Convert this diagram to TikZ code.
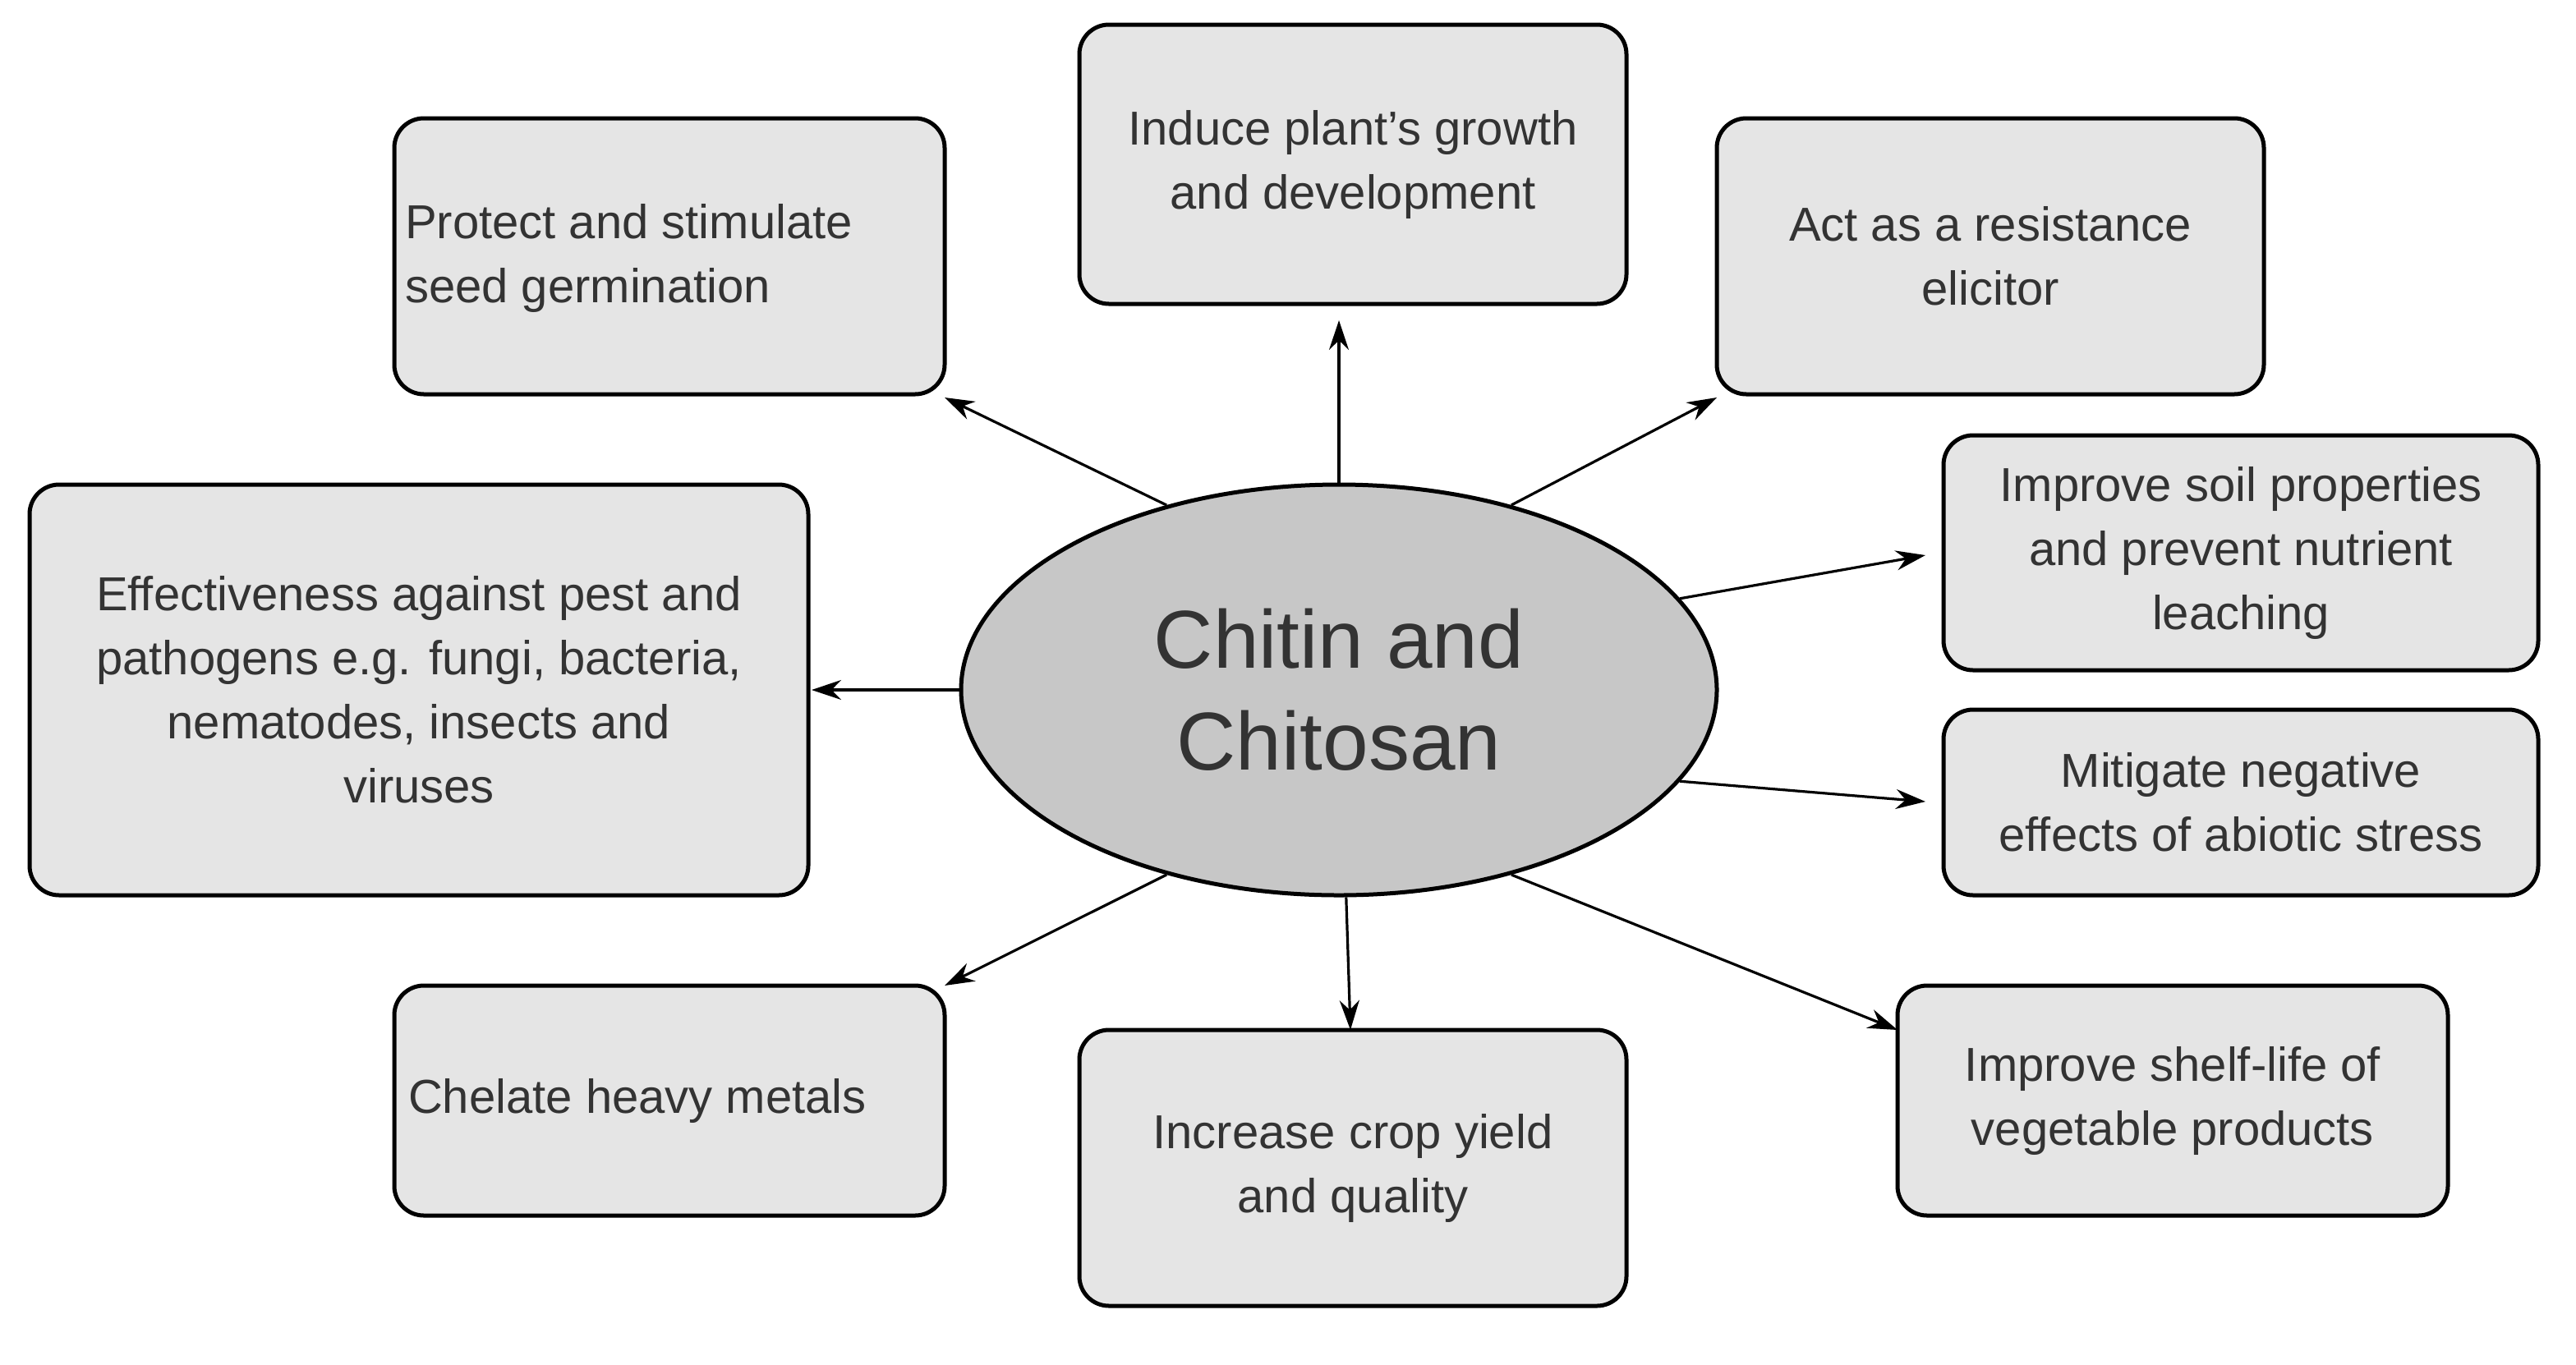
\documentclass[tikz,border=0pt]{standalone}
\usepackage{fontspec}
\setmainfont{Liberation Sans}
\usetikzlibrary{arrows.meta,shapes.geometric}
\begin{document}
\begin{tikzpicture}[x=1pt,y=-1pt,
 box/.style={draw,line width=2.5pt,rounded corners=18pt,fill=black!10,inner sep=0pt,font=\fontsize{29}{39}\selectfont,text=black!80},
 arr/.style={line width=1.6pt,-{Stealth[length=18pt,width=12pt]}}]
\useasboundingbox (0,0) rectangle (1568,830.5);
\newcommand{\bx}[6]{\node[box,minimum width=#4-#2,minimum height=#5-#3,align=center] (#1) at ({(#2+#4)/2},{(#3+#5)/2}) {#6};}
\bx{prot}{240}{72}{575}{240}{}
\node[anchor=west,align=left,font=\fontsize{29}{39}\selectfont,text=black!80] at (243,157) {Protect and stimulate\\seed germination};
\bx{ind}{657}{15}{990}{185}{Induce plant's growth\\and development}
\bx{act}{1045}{72}{1378}{240}{Act as a resistance\\elicitor}
\bx{eff}{18}{295}{492}{545}{Effectiveness against pest and\\pathogens e.g. fungi, bacteria,\\nematodes, insects and\\viruses}
\bx{soil}{1183}{265}{1545}{408}{Improve soil properties\\and prevent nutrient\\leaching}
\bx{mit}{1183}{432}{1545}{545}{Mitigate negative\\effects of abiotic stress}
\bx{che}{240}{600}{575}{740}{}
\node[anchor=west,font=\fontsize{29}{39}\selectfont,text=black!80] at (245,670) {Chelate heavy metals};
\bx{inc}{657}{627}{990}{795}{Increase crop yield\\and quality}
\bx{shelf}{1155}{600}{1490}{740}{Improve shelf-life of\\vegetable products}
\node[draw,line width=2.5pt,fill=black!22,ellipse,minimum width=460pt,minimum height=250pt,inner sep=0pt,align=center,font=\fontsize{50}{62}\selectfont,text=black!80] (c) at (815,420) {Chitin and\\Chitosan};
\coordinate (a1) at (575,242);
\coordinate (a2) at (815,195);
\coordinate (a3) at (1045,242);
\coordinate (a4) at (1172,338);
\coordinate (a5) at (1172,488);
\coordinate (a6) at (1155,627);
\coordinate (a7) at (822,627);
\coordinate (a8) at (575,600);
\coordinate (a9) at (494,420);
\draw[arr] (c.133) -- (a1);
\draw[arr] (c.90) -- (a2);
\draw[arr] (c.47) -- (a3);
\draw[arr] (c.15) -- (a4);
\draw[arr] (c.-15) -- (a5);
\draw[arr] (c.-47) -- (a6);
\draw[arr] (c.-88) -- (a7);
\draw[arr] (c.-133) -- (a8);
\draw[arr] (c.180) -- (a9);
\end{tikzpicture}
\end{document}
